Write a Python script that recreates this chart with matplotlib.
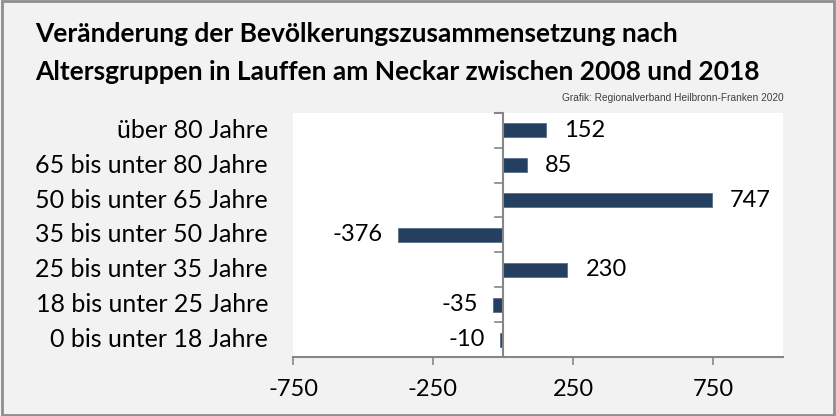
import matplotlib.pyplot as plt
from matplotlib.patches import Rectangle

categories = ["0 bis unter 18 Jahre", "18 bis unter 25 Jahre", "25 bis unter 35 Jahre",
              "35 bis unter 50 Jahre", "50 bis unter 65 Jahre", "65 bis unter 80 Jahre",
              "über 80 Jahre"]
values = [-10, -35, 230, -376, 747, 85, 152]
xticks = [-750, -250, 250, 750]

plt.rcParams['font.family'] = ['Lato', 'DejaVu Sans']
bg = '#f2f2f2'
bar_color = '#243f60'
axis_color = '#868686'

fig = plt.figure(figsize=(8.36, 4.16), dpi=100, facecolor=bg)
ax = fig.add_axes([0.3505, 0.1418, 0.586, 0.587])
ax.set_facecolor('white')

y = range(len(categories))
ax.barh(y, values, height=0.4, color=bar_color, edgecolor='#5a6f8a', linewidth=0.6, zorder=3)

ax.set_xlim(-750, 1000)
ax.set_ylim(-0.5, len(categories) - 0.5)
ax.set_xticks(xticks)
ax.set_xticklabels([str(t) for t in xticks], fontsize=17)
ax.tick_params(axis='x', length=6, color=axis_color, width=1.2, pad=10)
ax.set_yticks([])

for s in ['top', 'right', 'left']:
    ax.spines[s].set_visible(False)
ax.spines['bottom'].set_color(axis_color)
ax.spines['bottom'].set_linewidth(1.5)

# vertical zero axis with tick marks between categories
ax.axvline(0, color=axis_color, lw=1.5, zorder=4)
for b in [i + 0.5 for i in range(len(categories) - 1)]:
    ax.plot([-28, 0], [b, b], color=axis_color, lw=1.2, zorder=4)
ax.plot([-28, 0], [len(categories) - 0.5] * 2, color=axis_color, lw=1.5, zorder=4, clip_on=False)

# category labels
for i, c in enumerate(categories):
    ax.annotate(c, (-750, i), xytext=(-18, 0), textcoords='offset points',
                ha='right', va='center', fontsize=18, annotation_clip=False)

# value labels
for i, v in enumerate(values):
    if v >= 0:
        ax.annotate(str(v), (v, i), xytext=(13, 0), textcoords='offset points',
                    ha='left', va='center', fontsize=17)
    else:
        ax.annotate(str(v), (v, i), xytext=(-11, 0), textcoords='offset points',
                    ha='right', va='center', fontsize=17)

fig.text(0.042, 0.918, "Veränderung der Bevölkerungszusammensetzung nach",
         fontsize=19, fontweight='bold', va='center', ha='left')
fig.text(0.042, 0.826, "Altersgruppen in Lauffen am Neckar zwischen 2008 und 2018",
         fontsize=19, fontweight='bold', va='center', ha='left')
fig.text(0.937, 0.765, "Grafik: Regionalverband Heilbronn-Franken 2020",
         fontsize=7.3, family='Liberation Sans', color='#404040',
         ha='right', va='center')

fig.patches.append(Rectangle((0.002, 0.003), 0.996, 0.994, transform=fig.transFigure,
                             fill=False, edgecolor='#8f8f8f', lw=2))

fig.savefig('out.png', dpi=100, facecolor=bg)
